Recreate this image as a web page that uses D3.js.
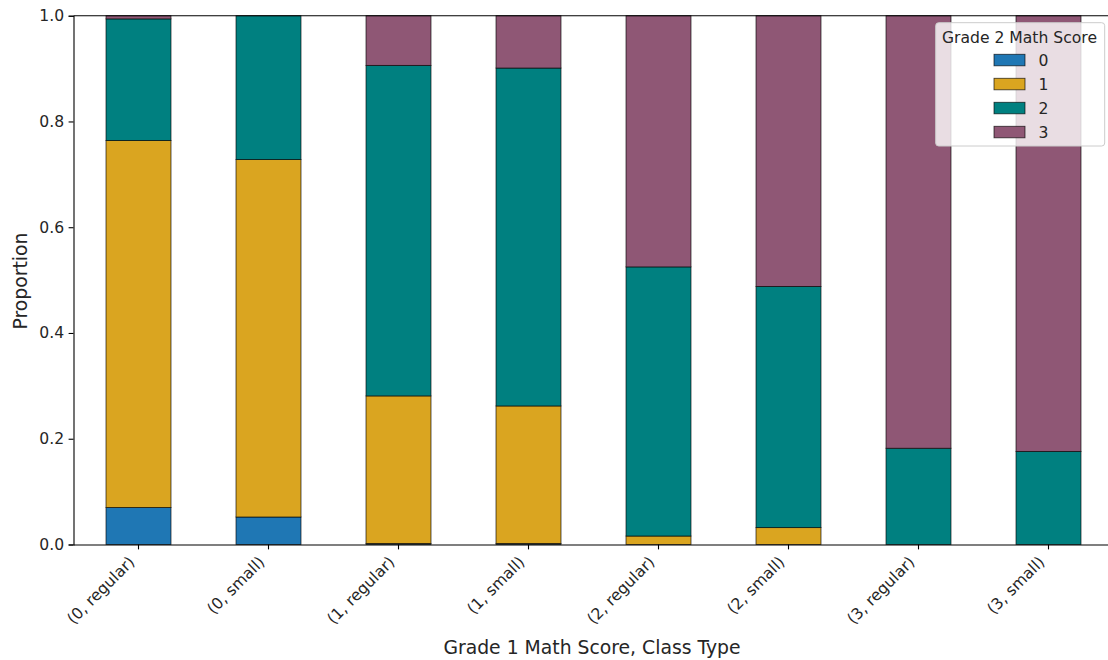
<!DOCTYPE html>
<html>
<head>
<meta charset="utf-8">
<script src="https://cdn.jsdelivr.net/npm/d3@7"></script>
<style>
  html, body { margin: 0; padding: 0; background: #fff; }
  svg { display: block; font-family: "DejaVu Sans", sans-serif; }
</style>
</head>
<body>
<svg id="chart" width="1108" height="660"></svg>
<script>
// ---- data ----
const categories = ["(0, regular)", "(0, small)", "(1, regular)", "(1, small)",
                    "(2, regular)", "(2, small)", "(3, regular)", "(3, small)"];
const seriesNames = ["0", "1", "2", "3"];
const score0 = [0.070, 0.052, 0.002, 0.002, 0.000, 0.000, 0.000, 0.000];
const score1 = [0.694, 0.676, 0.279, 0.260, 0.016, 0.032, 0.000, 0.000];
const score2 = [0.230, 0.272, 0.625, 0.639, 0.509, 0.456, 0.182, 0.176];
const score3 = [0.006, 0.000, 0.094, 0.099, 0.475, 0.512, 0.818, 0.824];
const yTicks = [0.0, 0.2, 0.4, 0.6, 0.8, 1.0];
const colors = ["#1f77b4", "#daa520", "#008080", "#8f5775"];

(function () {
const rows = categories.map((c, i) => ({
  cat: c, "0": score0[i], "1": score1[i], "2": score2[i], "3": score3[i]
}));

const svg = d3.select("#chart");
const pLeft = 73.5, pRight = 1113.5, pTop = 15.7, pBottom = 544.5;
const tickFont = "15.6px", labelFont = "18.8px";

const x = d3.scaleBand().domain(categories).range([pLeft, pRight])
  .paddingInner(0.5).paddingOuter(0.25);
const y = d3.scaleLinear().domain([0, 1]).range([pBottom, pTop]);
const color = d3.scaleOrdinal().domain(seriesNames).range(colors);

const stacked = d3.stack().keys(seriesNames)(rows);

svg.append("g").selectAll("g").data(stacked).join("g")
  .attr("fill", d => color(d.key))
  .selectAll("rect").data(d => d).join("rect")
  .attr("x", d => x(d.data.cat))
  .attr("width", x.bandwidth())
  .attr("y", d => y(d[1]))
  .attr("height", d => Math.max(0, y(d[0]) - y(d[1])))
  .attr("stroke", "rgba(0,0,0,0.7)")
  .attr("stroke-width", 0.9);

// axes
const yAxis = svg.append("g").attr("transform", `translate(${pLeft},0)`)
  .call(d3.axisLeft(y).tickValues(yTicks).tickFormat(d3.format(".1f"))
    .tickSize(4.9).tickPadding(4.5));
yAxis.attr("font-family", "DejaVu Sans").attr("font-size", tickFont);
yAxis.select(".domain").attr("stroke", "#000").attr("stroke-width", 1.1);
yAxis.selectAll(".tick line").attr("stroke", "#000").attr("stroke-width", 1.1);
yAxis.selectAll(".tick text").attr("fill", "#262626");

const xAxis = svg.append("g").attr("transform", `translate(0,${pBottom})`)
  .call(d3.axisBottom(x).tickSize(4.9).tickSizeOuter(0));
xAxis.attr("font-family", "DejaVu Sans").attr("font-size", tickFont);
xAxis.select(".domain").attr("stroke", "#000").attr("stroke-width", 1.1);
xAxis.selectAll(".tick line").attr("stroke", "#000").attr("stroke-width", 1.1);
xAxis.selectAll(".tick text")
  .attr("fill", "#262626")
  .attr("text-anchor", "end")
  .attr("dy", null)
  .attr("y", null)
  .attr("transform", "translate(-3,18.5) rotate(-45)");

// top / right spines
svg.append("line").attr("x1", pLeft).attr("x2", pRight).attr("y1", pTop).attr("y2", pTop)
  .attr("stroke", "#000").attr("stroke-width", 1.1);
svg.append("line").attr("x1", pRight).attr("x2", pRight).attr("y1", pTop).attr("y2", pBottom)
  .attr("stroke", "#000").attr("stroke-width", 1.1);

// axis labels
svg.append("text").attr("x", 592).attr("y", 654)
  .attr("text-anchor", "middle").attr("font-size", labelFont).attr("fill", "#262626")
  .text("Grade 1 Math Score, Class Type");
svg.append("text")
  .attr("transform", `translate(27,281) rotate(-90)`)
  .attr("text-anchor", "middle").attr("font-size", labelFont).attr("fill", "#262626")
  .text("Proportion");

// legend
const lg = svg.append("g");
lg.append("rect").attr("x", 935.7).attr("y", 22.7).attr("width", 169).attr("height", 123.3)
  .attr("rx", 3).attr("fill", "rgba(255,255,255,0.8)").attr("stroke", "#cccccc").attr("stroke-width", 1);
lg.append("text").attr("x", 1019.5).attr("y", 42.8).attr("text-anchor", "middle")
  .attr("font-size", tickFont).attr("fill", "#262626").text("Grade 2 Math Score");
const items = lg.selectAll("g.item").data(seriesNames).join("g").attr("class", "item")
  .attr("transform", (d, i) => `translate(994,${54.3 + i * 24})`);
items.append("rect").attr("width", 31).attr("height", 11.5)
  .attr("fill", d => color(d)).attr("stroke", "rgba(0,0,0,0.7)").attr("stroke-width", 0.9);
items.append("text").attr("x", 44.5).attr("y", 5.75).attr("dy", "0.36em")
  .attr("font-size", tickFont).attr("fill", "#262626").text(d => d);
})();
</script>
</body>
</html>
